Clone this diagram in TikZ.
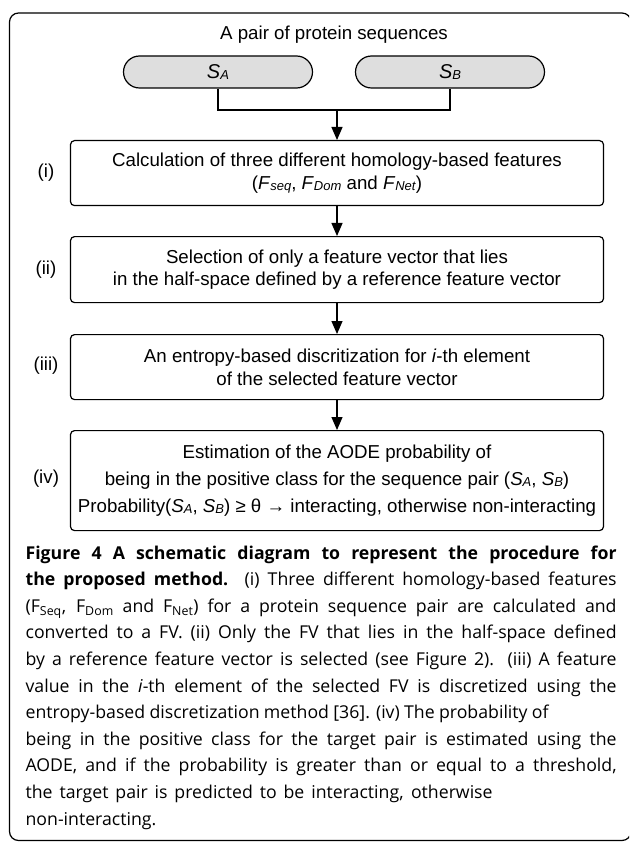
\documentclass[tikz,border=0pt]{standalone}
\usepackage{fontspec}
\setmainfont{Liberation Sans}
\newfontfamily\capfont{Open Sans}
\usetikzlibrary{arrows.meta}
\newcommand{\subx}[2]{\textit{#1}\raisebox{-1pt}{\fontsize{13}{13}\selectfont\textit{#2}}}
\newcommand{\capline}[1]{\makebox[591pt][s]{#1}}
\newcommand{\caplinew}[2]{\hbox to #1{#2}}
\newlength\lwcap
\begin{document}
\settowidth\lwcap{\capfont\fontsize{10}{10}\selectfont\textbf{the proposed method.} (i) Three different homology-based features}%
\pgfmathsetmacro\capsize{10*560/\lwcap}%
\begin{tikzpicture}[x=1pt,y=-1pt,
  line width=1.2pt,
  txt/.style={font=\fontsize{18.7}{22.5}\selectfont, align=center, inner sep=0pt},
  pill/.style={draw, rounded corners=16pt, fill=black!13, minimum width=189pt, minimum height=32pt, inner sep=0pt, font=\fontsize{20}{22}\selectfont},
  stepbox/.style={draw, rounded corners=4pt, minimum width=533pt, anchor=north, align=center, inner sep=0pt, font=\fontsize{18.7}{22.5}\selectfont},
  lab/.style={font=\fontsize{18.7}{22.5}\selectfont, inner sep=0pt},
  arr/.style={-{Triangle[length=13pt,width=11pt]}}
]
\useasboundingbox (0,0) rectangle (629,842);
\begin{scope}
\clip (0,0) rectangle (629,842);
\draw[rounded corners=9pt] (9.5,13) rectangle (631,840.5);
\end{scope}

\node[txt] (title) at (334,35) {A pair of protein sequences};
\node[pill] (pa) at (218,72) {\subx{S}{A}};
\node[pill] (pb) at (450,72) {\subx{S}{B}};
\coordinate (j) at (337,110);

\node[stepbox, minimum height=65pt] (b1) at (337,140) {Calculation of three different homology-based features\\(\subx{F}{seq}, \subx{F}{Dom} and \subx{F}{Net})};
\node[stepbox, minimum height=66pt] (b2) at (337,236) {Selection of only a feature vector that lies\\in the half-space defined by a reference feature vector};
\node[stepbox, minimum height=65pt] (b3) at (337,334) {An entropy-based discritization for \textit{i}-th element\\of the selected feature vector};
\node[stepbox, minimum height=100pt] (b4) at (337,430) {Estimation of the AODE probability of\\[4.3pt]being in the positive class for the sequence pair (\subx{S}{A}, \subx{S}{B})\\[4.3pt]Probability(\subx{S}{A}, \subx{S}{B}) ≥ θ → interacting, otherwise non-interacting};

\node[lab] (l1) at (46,172.5) {(i)};
\node[lab] (l2) at (46,270) {(ii)};
\node[lab] (l3) at (46,366) {(iii)};
\node[lab] (l4) at (46,479) {(iv)};

\draw (pa.south) |- (j) -| (pb.south);
\draw[arr] (j) -- (b1.north);
\draw[arr] (b1.south) -- (b2.north);
\draw[arr] (b2.south) -- (b3.north);
\draw[arr] (b3.south) -- (b4.north);

\node[anchor=north west, inner sep=0pt, align=left, font=\capfont\fontsize{\capsize}{26.6}\selectfont] (cap) at (25,545) {%
\capline{\textbf{Figure 4 A schematic diagram to represent the procedure for}}\\
\capline{\textbf{the proposed method.} (i) Three different homology-based features}\\
\capline{(F\textsubscript{Seq}, F\textsubscript{Dom} and F\textsubscript{Net}) for a protein sequence pair are calculated and}\\
\capline{converted to a FV. (ii) Only the FV that lies in the half-space defined}\\
\capline{by a reference feature vector is selected (see Figure 2). (iii) A feature}\\
\capline{value in the \textit{i}-th element of the selected FV is discretized using the}\\
\caplinew{523pt}{entropy-based discretization method [36]. (iv) The probability of}\\
\capline{being in the positive class for the target pair is estimated using the}\\
\capline{AODE, and if the probability is greater than or equal to a threshold,}\\
\caplinew{467pt}{the target pair is predicted to be interacting, otherwise}\\
non-interacting.};
\end{tikzpicture}
\end{document}
